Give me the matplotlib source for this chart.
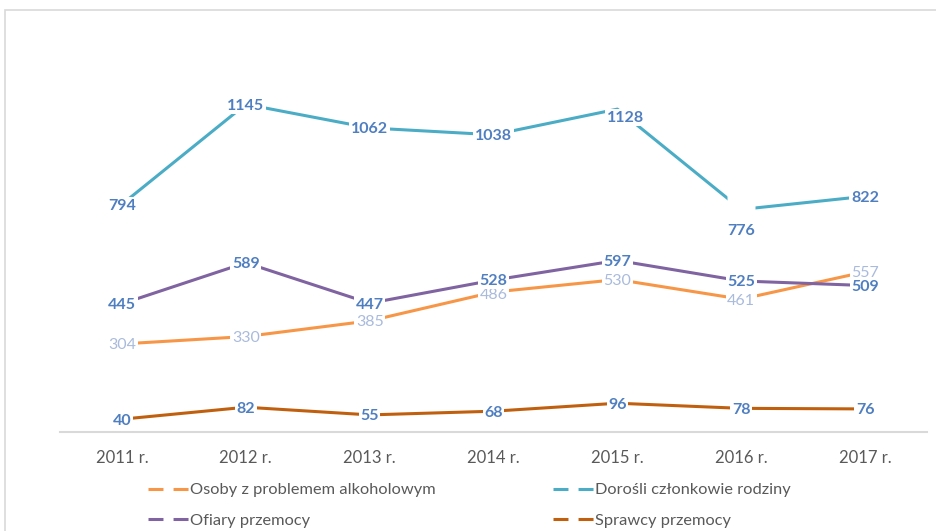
import matplotlib
matplotlib.use("Agg")
import matplotlib.pyplot as plt
from matplotlib.lines import Line2D
from matplotlib.patches import Rectangle

plt.rcParams['font.family'] = ['Lato', 'DejaVu Sans']

years = ["2011 r.", "2012 r.", "2013 r.", "2014 r.", "2015 r.", "2016 r.", "2017 r."]
alkohol = [304, 330, 385, 486, 530, 461, 557]
dorosli = [794, 1145, 1062, 1038, 1128, 776, 822]
ofiary = [445, 589, 447, 528, 597, 525, 509]
sprawcy = [40, 82, 55, 68, 96, 78, 76]

names = ["Osoby z problemem alkoholowym", "Dorośli członkowie rodziny",
         "Ofiary przemocy", "Sprawcy przemocy"]
colors = ["#F79646", "#4BACC6", "#8064A2", "#C0600F"]

fig = plt.figure(figsize=(9.37, 5.31), dpi=100)
fig.patches.append(Rectangle((5/937, -0.05), 1.0, 1 - 10/531 + 0.05, transform=fig.transFigure,
                             fill=False, ec="#D9D9D9", lw=1.2))
ax = fig.add_axes([60/937, 99/531, 867/937, 400.4/531])

x = list(range(len(years)))
series = [alkohol, dorosli, ofiary, sprawcy]
for si, (vals, c) in enumerate(zip(series, colors)):
    if si == 1:
        # gap around the 2016 point where the label sits below
        ax.plot(x, vals, color=c, lw=2.2, solid_capstyle='butt', zorder=2,
                marker='s', markevery=[5], ms=20, mfc='white', mec='none')
    else:
        ax.plot(x, vals, color=c, lw=2.2, solid_capstyle='butt', zorder=2)

blue = "#4F7FC0"
light = "#A9BBDC"
offsets = {(1, 5): (0, -20), (1, 4): (8, -7), (0, 3): (0, -1), (2, 3): (0, 1)}
for si, vals in enumerate(series):
    for i, v in enumerate(vals):
        dx, dy = offsets.get((si, i), (0, 0))
        if si == 0:
            col, fw, z = light, "normal", 4
        else:
            col, fw, z = blue, "bold", 5
        ax.annotate(str(v), (i, v), xytext=(dx * 0.72, dy * 0.72), textcoords="offset points",
                    ha="center", va="center_baseline", fontsize=11.5, color=col, fontweight=fw,
                    bbox=dict(boxstyle="square,pad=0.1", fc="white", ec="none"), zorder=z)

ax.set_xlim(-0.5, len(years) - 0.5)
ax.set_ylim(-5, 1400)
ax.set_xticks(x)
ax.set_xticklabels(years, fontsize=12, color="#595959")
ax.tick_params(axis="x", length=0, pad=13)
ax.set_yticks([])
for s in ["top", "right", "left"]:
    ax.spines[s].set_visible(False)
ax.spines["bottom"].set_color("#D9D9D9")
ax.spines["bottom"].set_linewidth(1.5)

handles = [Line2D([], [], color=c, lw=2.2, linestyle=(0, (4.9, 3.3))) for c in colors]
common = dict(loc="center left", frameon=False, fontsize=11.8, handlelength=2.5,
              handletextpad=0.05, labelspacing=1.0, labelcolor="#595959")
leg1 = fig.legend([handles[0], handles[2]], [names[0], names[2]],
                  bbox_to_anchor=(133/937, 1 - 505.5/531), **common)
leg2 = fig.legend([handles[1], handles[3]], [names[1], names[3]],
                  bbox_to_anchor=(538/937, 1 - 505.5/531), **common)

fig.savefig("out.png", dpi=100)
